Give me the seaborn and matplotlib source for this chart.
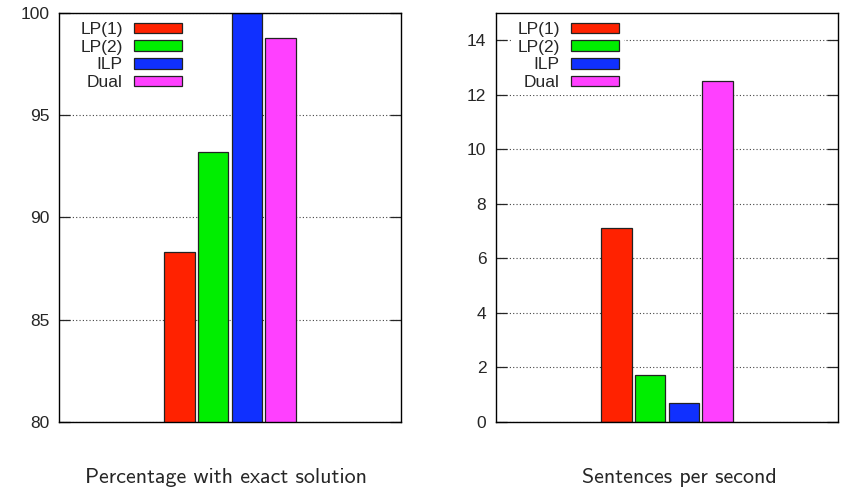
import pandas as pd
import matplotlib
matplotlib.use('Agg')
import matplotlib.pyplot as plt
import seaborn as sns

methods = ['LP(1)', 'LP(2)', 'ILP', 'Dual']
colors = ['#ff2200', '#00ee00', '#1030ff', '#ff40ff']

# Percentage with exact solution
pct_exact = [88.3, 93.2, 100.0, 98.8]
# Sentences per second
sent_per_sec = [7.13, 1.72, 0.70, 12.5]

sns.set_style('white')
plt.rcParams['font.family'] = ['Liberation Sans', 'DejaVu Sans']


def draw_panel(ax, values, ylim, yticks, xlabel, label_x):
    df = pd.DataFrame({'group': ['all'] * len(methods), 'method': methods, 'value': values})
    sns.barplot(data=df, x='group', y='value', hue='method', hue_order=methods,
                palette=colors, edgecolor='#222222', linewidth=0.9, gap=0.09,
                saturation=1, ax=ax)
    ax.set_xlim(-1.02, 1.02)
    ax.set_ylim(*ylim)
    ax.set_yticks(yticks)
    ax.set_xticks([])
    ax.set_xlabel('')
    ax.set_ylabel('')
    ax.tick_params(axis='y', direction='in', length=8, width=0.9, labelsize=12.5,
                   left=True, right=True, pad=7)
    ax.yaxis.grid(True, linestyle=(0, (1, 2)), color='#444444', linewidth=0.8)
    ax.set_axisbelow(True)
    for sp in ax.spines.values():
        sp.set_color('black')
        sp.set_linewidth(1.0)
    handles, labels = ax.get_legend_handles_labels()
    ax.legend(handles, labels, loc='upper left', bbox_to_anchor=(16 / 342, 1 - 4 / 409),
              markerfirst=False, fontsize=12.5, handlelength=2.8, handleheight=0.55,
              handletextpad=0.63, labelspacing=0.15, borderpad=0.3,
              borderaxespad=0, frameon=True, fancybox=False,
              facecolor='white', edgecolor='none', framealpha=1)
    ax.text(label_x, -0.135, xlabel, transform=ax.transAxes, ha='center', va='center',
            fontsize=15.8, family=['cmss10', 'DejaVu Sans'])


fig = plt.figure(figsize=(8.44, 4.93), dpi=100)
ax1 = fig.add_axes([59 / 844, 71 / 493, 342 / 844, 409 / 493])
ax2 = fig.add_axes([496 / 844, 71 / 493, 342 / 844, 409 / 493])

draw_panel(ax1, pct_exact, (80, 100), [80, 85, 90, 95, 100],
           'Percentage with exact solution', 0.488)
draw_panel(ax2, sent_per_sec, (0, 15), [0, 2, 4, 6, 8, 10, 12, 14],
           'Sentences per second', 0.535)

fig.savefig('out.png', dpi=100)
